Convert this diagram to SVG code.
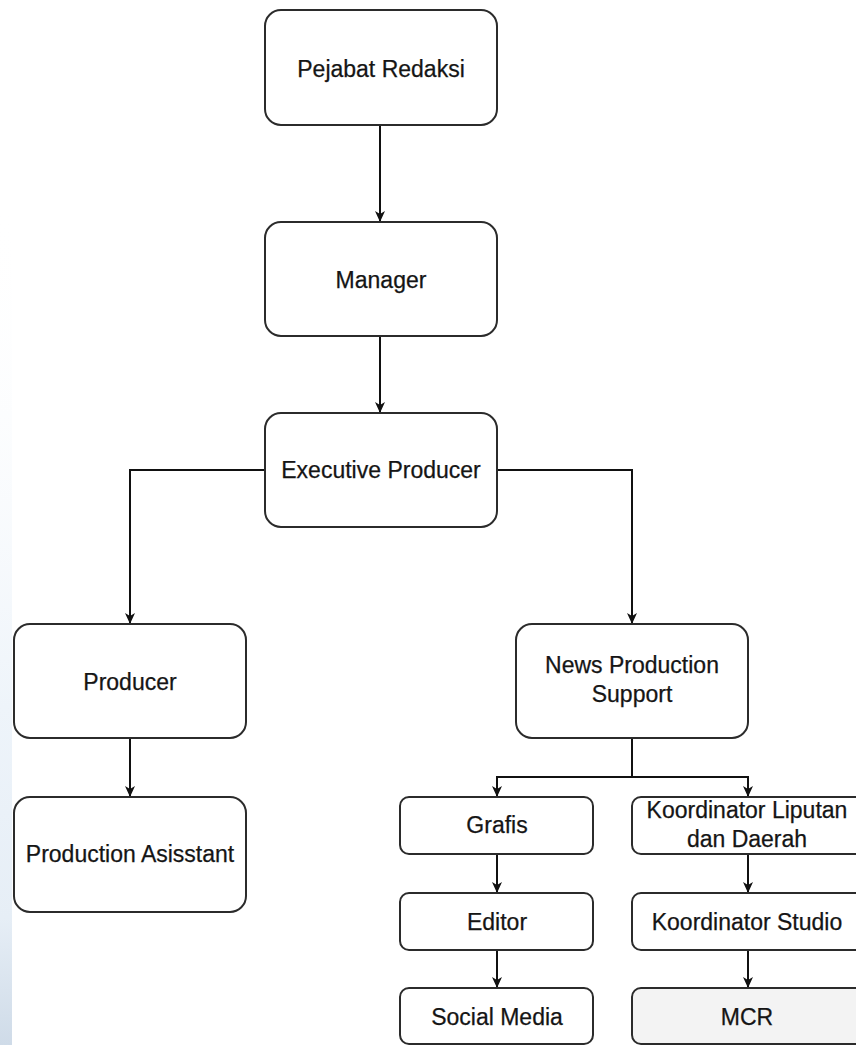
<svg xmlns="http://www.w3.org/2000/svg" width="856" height="1045" viewBox="0 0 856 1045">
  <style>
    .box { fill: #ffffff; stroke: #2b2b2b; stroke-width: 2; }
    .gray { fill: #f3f3f3; }
    .lbl { font-family: "Liberation Sans", Arial, sans-serif; font-size: 23px; fill: #151515; text-anchor: middle; stroke: #151515; stroke-width: 0.25; }
    .edge { fill: none; stroke: #111111; stroke-width: 2; }
  </style>
  <defs>
    <marker id="arr" viewBox="0 0 12 12" refX="11" refY="6" markerWidth="12" markerHeight="12" markerUnits="userSpaceOnUse" orient="auto">
      <path d="M0,1 L11,6 L0,11 L3,6 Z" fill="#111111"/>
    </marker>
    <linearGradient id="strip" x1="0" y1="0" x2="0" y2="1">
      <stop offset="0" stop-color="#ffffff" stop-opacity="0"/>
      <stop offset="0.6" stop-color="#eef4fa"/>
      <stop offset="0.85" stop-color="#e6eef6"/>
      <stop offset="1" stop-color="#cfdbe8"/>
    </linearGradient>
  </defs>
  <rect x="0" y="0" width="856" height="1045" fill="#ffffff"/>
  <rect x="0" y="200" width="12" height="845" fill="url(#strip)"/>

  <g id="connectors">
    <path class="edge" d="M380,125 L380,222" stroke="#555555" marker-end="url(#arr)"/>
    <path class="edge" d="M380,336 L380,413" marker-end="url(#arr)"/>
    <path class="edge" d="M265,470 L130,470 L130,624" marker-end="url(#arr)"/>
    <path class="edge" d="M497,470 L632,470 L632,624" marker-end="url(#arr)"/>
    <path class="edge" d="M130,738 L130,797" marker-end="url(#arr)"/>
    <path class="edge" d="M632,738 L632,777 L497,777 L497,797" marker-end="url(#arr)"/>
    <path class="edge" d="M632,777 L748,777 L748,797" marker-end="url(#arr)"/>
    <path class="edge" d="M497,854 L497,893" marker-end="url(#arr)"/>
    <path class="edge" d="M497,950 L497,988" marker-end="url(#arr)"/>
    <path class="edge" d="M748,854 L748,893" marker-end="url(#arr)"/>
    <path class="edge" d="M748,950 L748,988" marker-end="url(#arr)"/>
  </g>

  <g id="pejabat-redaksi">
    <rect class="box" x="265" y="10" width="232" height="115" rx="16"/>
    <text class="lbl" x="381" y="77">Pejabat Redaksi</text>
  </g>
  <g id="manager">
    <rect class="box" x="265" y="222" width="232" height="114" rx="16"/>
    <text class="lbl" x="381" y="288">Manager</text>
  </g>
  <g id="executive-producer">
    <rect class="box" x="265" y="413" width="232" height="114" rx="16"/>
    <text class="lbl" x="381" y="478">Executive Producer</text>
  </g>
  <g id="producer">
    <rect class="box" x="14" y="624" width="232" height="114" rx="16"/>
    <text class="lbl" x="130" y="690">Producer</text>
  </g>
  <g id="production-asisstant">
    <rect class="box" x="14" y="797" width="232" height="115" rx="16"/>
    <text class="lbl" x="130" y="862">Production Asisstant</text>
  </g>
  <g id="news-production-support">
    <rect class="box" x="516" y="624" width="232" height="114" rx="16"/>
    <text class="lbl" x="632" y="673">News Production</text>
    <text class="lbl" x="632" y="702">Support</text>
  </g>
  <g id="grafis">
    <rect class="box" x="400" y="797" width="193" height="57" rx="9"/>
    <text class="lbl" x="497" y="833">Grafis</text>
  </g>
  <g id="editor">
    <rect class="box" x="400" y="893" width="193" height="57" rx="9"/>
    <text class="lbl" x="497" y="930">Editor</text>
  </g>
  <g id="social-media">
    <rect class="box" x="400" y="988" width="193" height="56" rx="9"/>
    <text class="lbl" x="497" y="1025">Social Media</text>
  </g>
  <g id="koordinator-liputan">
    <rect class="box" x="632" y="797" width="232" height="57" rx="9"/>
    <text class="lbl" x="747" y="818">Koordinator Liputan</text>
    <text class="lbl" x="747" y="847">dan Daerah</text>
  </g>
  <g id="koordinator-studio">
    <rect class="box" x="632" y="893" width="232" height="57" rx="9"/>
    <text class="lbl" x="747" y="930">Koordinator Studio</text>
  </g>
  <g id="mcr">
    <rect class="box gray" x="632" y="988" width="232" height="56" rx="9"/>
    <text class="lbl" x="747" y="1025">MCR</text>
  </g>
</svg>
